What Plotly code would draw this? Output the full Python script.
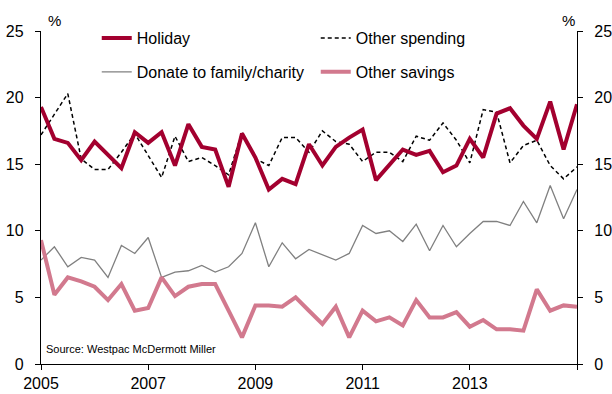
import plotly.graph_objects as go

# Quarterly survey dates, 2005 Q1 through 2015 Q1
start_year = 2005
n_quarters = 41
dates = [start_year + 0.25 * i for i in range(n_quarters)]

holiday = [19.3, 16.9, 16.6, 15.3, 16.7, 15.7, 14.7, 17.4, 16.6, 17.4,
           14.9, 18.0, 16.3, 16.1, 13.3, 17.3, 15.5, 13.1, 13.9, 13.5,
           16.5, 14.9, 16.3, 17.0, 17.6, 13.8, 14.9, 16.1, 15.7, 16.0,
           14.4, 14.9, 16.9, 15.5, 18.8, 19.2, 17.9, 16.9, 19.7, 16.1, 19.5]

other_spending = [17.2, 18.7, 20.3, 15.4, 14.6, 14.6, 15.9, 17.3, 15.7, 14.0,
                  17.1, 15.2, 15.5, 14.9, 14.2, 17.4, 15.4, 14.9, 17.0, 17.0,
                  15.9, 17.5, 16.7, 16.5, 15.2, 15.9, 15.9, 15.2, 17.1, 16.8,
                  18.1, 16.8, 15.1, 19.1, 18.9, 15.1, 16.4, 16.8, 14.9, 13.9, 14.8]

donate = [7.8, 8.8, 7.3, 8.0, 7.8, 6.5, 8.9, 8.3, 9.5, 6.5,
          6.9, 7.0, 7.4, 6.9, 7.3, 8.3, 10.6, 7.3, 9.1, 7.9,
          8.6, 8.2, 7.8, 8.3, 10.4, 9.8, 10.0, 9.2, 10.5, 8.5,
          10.4, 8.8, 9.8, 10.7, 10.7, 10.4, 12.2, 10.6, 13.4, 10.9, 13.1]

other_savings = [9.3, 5.2, 6.5, 6.2, 5.8, 4.8, 6.0, 4.0, 4.2, 6.5,
                 5.1, 5.8, 6.0, 6.0, 4.0, 2.0, 4.4, 4.4, 4.3, 5.0,
                 4.0, 3.0, 4.3, 2.0, 4.0, 3.2, 3.5, 2.9, 4.8, 3.5,
                 3.5, 3.9, 2.8, 3.3, 2.6, 2.6, 2.5, 5.6, 4.0, 4.4, 4.3]

x_ticks = [2005, 2007, 2009, 2011, 2013, 2015]
x_tick_labels = ["2005", "2007", "2009", "2011", "2013", ""]
y_ticks = [0, 5, 10, 15, 20, 25]

FONT = "Arial, Liberation Sans, sans-serif"
RED = "#a3002f"
PINK = "#d2798e"
GREY = "#808080"

fig = go.Figure()

fig.add_trace(go.Scatter(
    x=dates, y=donate, name="Donate to family/charity", mode="lines",
    line=dict(color=GREY, width=1.3), legend="legend2"))
fig.add_trace(go.Scatter(
    x=dates, y=other_spending, name="Other spending", mode="lines",
    line=dict(color="black", width=1.5, dash="4px,3px"), legend="legend"))
fig.add_trace(go.Scatter(
    x=dates, y=other_savings, name="Other savings", mode="lines",
    line=dict(color=PINK, width=4), legend="legend2", yaxis="y2"))
fig.add_trace(go.Scatter(
    x=dates, y=holiday, name="Holiday", mode="lines",
    line=dict(color=RED, width=4), legend="legend"))

axis_font = dict(family=FONT, size=16, color="black")
common_axis = dict(
    showline=True, linecolor="black", linewidth=1.3,
    ticks="outside", ticklen=5, tickcolor="black", tickwidth=1.3,
    showgrid=False, zeroline=False, tickfont=axis_font, automargin=False)
legend_style = dict(
    orientation="h", xanchor="left", yanchor="middle",
    entrywidth=174, entrywidthmode="pixels",
    bgcolor="rgba(0,0,0,0)", font=dict(family=FONT, size=16),
    itemwidth=30, tracegroupgap=0)

fig.update_layout(
    width=612, height=394,
    margin=dict(l=41, r=35, t=31, b=30, autoexpand=False),
    paper_bgcolor="white", plot_bgcolor="white",
    font=dict(family=FONT, size=16, color="black"),
    xaxis=dict(range=[2005, 2015], tickvals=x_ticks, ticktext=x_tick_labels,
               **common_axis),
    yaxis=dict(range=[0, 25], tickvals=y_ticks, ticklabelstandoff=8,
               **common_axis),
    yaxis2=dict(range=[0, 25], tickvals=y_ticks, overlaying="y",
                side="right", ticklabelstandoff=8, **common_axis),
    legend=dict(x=0.104, y=0.979, traceorder="reversed", **legend_style),
    legend2=dict(x=0.104, y=0.877, traceorder="normal", **legend_style),
    showlegend=True,
)

fig.add_annotation(text="%", xref="paper", yref="paper", x=0.009, y=1.0,
                   xanchor="left", yanchor="bottom", showarrow=False,
                   font=dict(family=FONT, size=15))
fig.add_annotation(text="%", xref="paper", yref="paper", x=1.0, y=1.0,
                   xanchor="right", yanchor="bottom", showarrow=False,
                   font=dict(family=FONT, size=15))
fig.add_annotation(text="Source: Westpac McDermott Miller", xref="paper",
                   yref="paper", x=0.006, y=0.045, xanchor="left",
                   yanchor="middle", showarrow=False,
                   font=dict(family=FONT, size=11))

fig.write_html("out.html")
